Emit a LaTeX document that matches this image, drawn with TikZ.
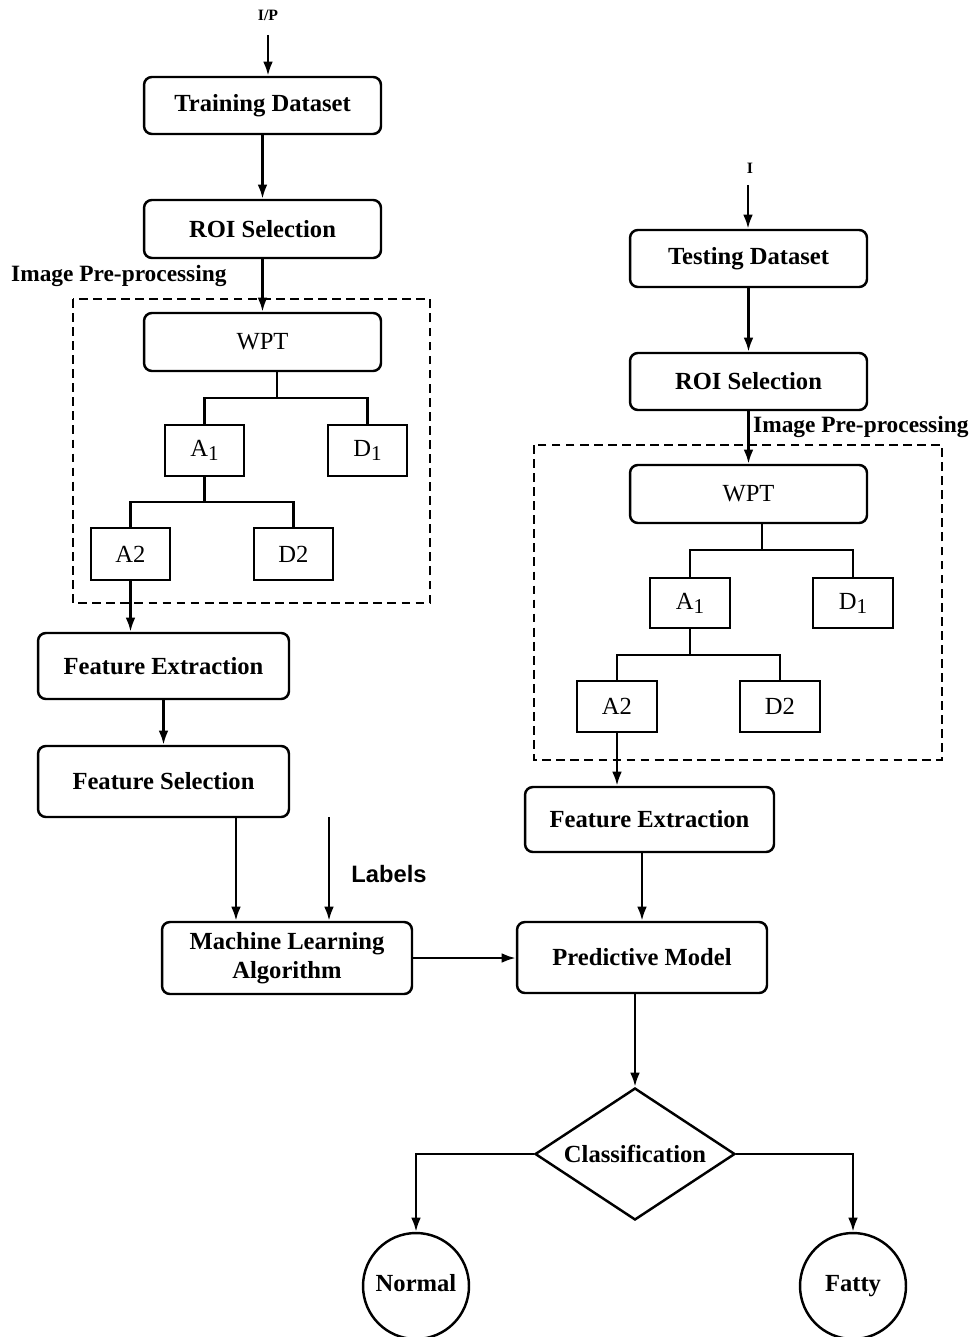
\documentclass[tikz,border=0pt]{standalone}
\usepackage{fontspec}
\setmainfont{Liberation Serif}
\newfontfamily\sansbf{Liberation Sans}
\usetikzlibrary{shapes.geometric,arrows.meta}
\begin{document}
\begin{tikzpicture}[x=0.02cm,y=-0.02cm,
  line width=1.4pt,
  >={Latex[length=8pt,width=5.5pt]},
  rbox/.style={draw, rounded corners=4.5pt, font=\fontsize{14}{16.5}\selectfont\bfseries, align=center, inner sep=0pt},
  wbox/.style={draw, rounded corners=4.5pt, font=\fontsize{14}{16}\selectfont, inner sep=0pt, minimum width=4.74cm, minimum height=1.16cm},
  sbox/.style={draw, font=\fontsize{14}{16}\selectfont, inner sep=0pt, minimum width=1.58cm, minimum height=1.02cm},
  dbox/.style={draw, line width=1.3pt, dash pattern=on 5pt off 3pt},
  lbl/.style={font=\fontsize{13.3}{16}\selectfont\bfseries, inner sep=0pt},
  small/.style={font=\fontsize{9}{10}\selectfont\bfseries, inner sep=0pt},
  endc/.style={draw, circle, inner sep=0pt, minimum size=2.12cm, text height=9.5pt, text depth=3pt, font=\fontsize{14}{16}\selectfont\bfseries},
]
\useasboundingbox (0,0) rectangle (971,1337);
\newcommand{\subone}{\raisebox{-0.35ex}{\fontsize{12}{12}\selectfont 1}}

% ---------- left column ----------
\node[small] (ip) at (268,15) {I/P};
\coordinate (ipa) at (268,35);
\node[rbox, minimum width=4.74cm, minimum height=1.14cm] (td) at (262.5,105.5) {Training Dataset};
\node[rbox, minimum width=4.74cm, minimum height=1.16cm] (roiL) at (262.5,229) {ROI Selection};
\node[lbl, anchor=west] (ippL) at (10,276) {Image Pre-processing};
\draw[dbox] (73,299) rectangle (430,603);
\node[wbox] (wptL) at (262.5,342) {WPT};
\node[sbox] (a1L) at (204.5,450.5) {A\subone};
\node[sbox] (d1L) at (367.5,450.5) {D\subone};
\node[sbox, minimum height=1.04cm] (a2L) at (130.5,554) {A2};
\node[sbox, minimum height=1.04cm] (d2L) at (293.5,554) {D2};
\node[rbox, minimum width=5.02cm, minimum height=1.32cm] (feL) at (163.5,666) {Feature Extraction};
\node[rbox, minimum width=5.02cm, minimum height=1.42cm] (fsL) at (163.5,781.5) {Feature Selection};
\node[rbox, minimum width=5.0cm, minimum height=1.44cm] (ml) at (287,958) {Machine Learning\\Algorithm};
\node[font=\sansbf\bfseries\fontsize{13.5}{16}\selectfont, inner sep=0pt] (labels) at (389,874) {Labels};
\coordinate (laba) at (329,817);

% ---------- right column ----------
\node[small] (iR) at (750,168) {I};
\coordinate (iRa) at (748,185);
\node[rbox, minimum width=4.74cm, minimum height=1.14cm] (tdR) at (748.5,258.5) {Testing Dataset};
\node[rbox, minimum width=4.74cm, minimum height=1.14cm] (roiR) at (748.5,381.5) {ROI Selection};
\node[lbl, anchor=west] (ippR) at (752,427) {Image Pre-processing};
\draw[dbox] (534,445) rectangle (942,760);
\node[wbox] (wptR) at (748.5,494) {WPT};
\node[sbox, minimum width=1.6cm, minimum height=1.0cm] (a1R) at (690,603) {A\subone};
\node[sbox, minimum width=1.6cm, minimum height=1.0cm] (d1R) at (853,603) {D\subone};
\node[sbox, minimum width=1.6cm] (a2R) at (617,706.5) {A2};
\node[sbox, minimum width=1.6cm] (d2R) at (780,706.5) {D2};
\node[rbox, minimum width=4.98cm, minimum height=1.3cm] (feR) at (649.5,819.5) {Feature Extraction};
\node[rbox, minimum width=5.0cm, minimum height=1.42cm] (pm) at (642,957.5) {Predictive Model};

% ---------- bottom ----------
\node[draw, diamond, aspect=1.5, inner sep=0pt, minimum width=4cm, minimum height=2.64cm,
      font=\fontsize{14}{16}\selectfont\bfseries] (dia) at (635,1154) {Classification};
\node[endc] (normal) at (416,1286) {Normal};
\node[endc] (fatty) at (853,1286) {Fatty};

% ---------- connectors: left ----------
\draw[->] (ipa) -- (ipa |- td.north);
\draw[->] (td) -- (roiL);
\draw[->] (roiL) -- (wptL);
\coordinate (jL) at (277,398);
\draw (jL |- wptL.south) -- (jL);
\draw (a1L.north) |- (jL) -| (d1L.north);
\coordinate (kL) at (204.5,502);
\draw (a1L.south) -- (kL);
\draw (a2L.north) |- (kL) -| (d2L.north);
\draw[->] (a2L.south) -- (a2L.south |- feL.north);
\draw[->] (feL) -- (fsL);
\draw[->] ([xshift=1.45cm]fsL.south) coordinate (fsx) -- (fsx |- ml.north);
\draw[->] (laba) -- (laba |- ml.north);
\draw[->] (ml.east) -- (ml.east -| pm.west);

% ---------- connectors: right ----------
\draw[->] (iRa) -- (iRa |- tdR.north);
\draw[->] (tdR) -- (roiR);
\draw[->] (roiR) -- (wptR);
\coordinate (jR) at (762,550);
\draw (jR |- wptR.south) -- (jR);
\draw (a1R.north) |- (jR) -| (d1R.north);
\coordinate (kR) at (690,655);
\draw (a1R.south) -- (kR);
\draw (a2R.north) |- (kR) -| (d2R.north);
\draw[->] (a2R.south) -- (a2R.south |- feR.north);
\draw[->] (pm.north |- feR.south) -- (pm.north);
\draw[->] (dia.north |- pm.south) -- (dia.north);
\draw[->] (dia.west) -| (normal.north);
\draw[->] (dia.east) -| (fatty.north);
\end{tikzpicture}
\end{document}
